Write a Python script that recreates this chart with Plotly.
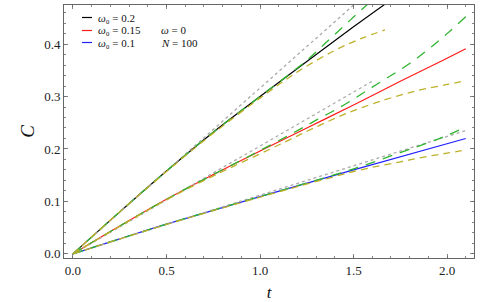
import plotly.graph_objects as go

# ---------------- data ----------------
legend_labels = ["0.2", "0.15", "0.1"]
extra_labels = ["<i>ω</i> = 0", "<i>N</i> = 100"]

# omega0 = 0.2
t_black = [0, 0.25, 0.5, 0.75, 1.0, 1.25, 1.5, 1.75]
c_black = [0, 0.080, 0.158, 0.232, 0.300, 0.367, 0.433, 0.497]
t_black_gray = [0, 0.5, 1.0, 1.5, 1.6]
c_black_gray = [0, 0.158, 0.316, 0.474, 0.506]
t_black_green = [0, 0.25, 0.5, 0.75, 1.0, 1.25, 1.35, 1.45, 1.55, 1.65]
c_black_green = [0, 0.080, 0.158, 0.232, 0.300, 0.369, 0.402, 0.435, 0.468, 0.500]
t_black_yellow = [0, 0.25, 0.5, 0.75, 1.0, 1.2, 1.4, 1.55, 1.668]
c_black_yellow = [0, 0.080, 0.157, 0.230, 0.297, 0.347, 0.388, 0.412, 0.427]

# omega0 = 0.15
t_red = [0, 0.25, 0.5, 0.75, 1.0, 1.25, 1.5, 1.75, 2.0, 2.1]
c_red = [0, 0.053, 0.104, 0.151, 0.196, 0.240, 0.284, 0.329, 0.373, 0.391]
t_red_gray = [0, 0.5, 1.0, 1.5, 1.6]
c_red_gray = [0, 0.103, 0.206, 0.309, 0.329]
t_red_green = [0, 0.5, 1.0, 1.2, 1.3, 1.4, 1.5, 1.6, 1.7, 1.8, 1.9, 2.0, 2.1]
c_red_green = [0, 0.104, 0.197, 0.235, 0.255, 0.274, 0.295, 0.318, 0.340, 0.363, 0.390, 0.420, 0.452]
t_red_yellow = [0, 0.5, 0.8, 1.05, 1.18, 1.285, 1.464, 1.66, 1.838, 2.0, 2.1]
c_red_yellow = [0, 0.103, 0.157, 0.199, 0.2215, 0.2395, 0.268, 0.293, 0.311, 0.323, 0.330]

# omega0 = 0.1
t_blue = [0, 0.25, 0.5, 1.0, 1.5, 2.1]
c_blue = [0, 0.0285, 0.0565, 0.109, 0.160, 0.220]
t_blue_gray = [0, 1.0, 2.1]
c_blue_gray = [0, 0.112, 0.235]
t_blue_green = [0, 0.5, 1.0, 1.25, 1.5, 1.75, 1.9, 2.0, 2.1]
c_blue_green = [0, 0.0565, 0.109, 0.135, 0.162, 0.193, 0.212, 0.226, 0.242]
t_blue_yellow = [0, 0.5, 1.0, 1.29, 1.4, 1.5, 1.6, 1.7, 1.8, 1.9, 2.0, 2.1]
c_blue_yellow = [0, 0.056, 0.108, 0.137, 0.1475, 0.157, 0.165, 0.172, 0.179, 0.186, 0.192, 0.198]

x_ticks = [0.0, 0.5, 1.0, 1.5, 2.0]
y_ticks = [0.0, 0.1, 0.2, 0.3, 0.4]

# ---------------- styles ----------------
W, H = 485, 302
ML, MR, MT, MB = 64, 11, 5, 44
PW, PH = W - ML - MR, H - MT - MB
FONT = "Liberation Serif"
SOLID = ["#000000", "#ff1a1a", "#2020ff"]
GRAY = "#aaaaaa"
GREEN = "#2fb52f"
YELLOW = "#bdb12a"


def px(x):
    return (x - ML) / PW


def py(y):
    return (H - MB - y) / PH


fig = go.Figure()

groups = [
    (t_black, c_black, t_black_gray, c_black_gray, t_black_green, c_black_green, t_black_yellow, c_black_yellow),
    (t_red, c_red, t_red_gray, c_red_gray, t_red_green, c_red_green, t_red_yellow, c_red_yellow),
    (t_blue, c_blue, t_blue_gray, c_blue_gray, t_blue_green, c_blue_green, t_blue_yellow, c_blue_yellow),
]

for i, (ts, cs, tg, cg, tgr, cgr, ty, cy) in enumerate(groups):
    fig.add_trace(go.Scatter(x=ts, y=cs, mode="lines", line=dict(color=SOLID[i], width=1.2, shape="spline"),
                             showlegend=False, hoverinfo="skip"))
for i, (ts, cs, tg, cg, tgr, cgr, ty, cy) in enumerate(groups):
    fig.add_trace(go.Scatter(x=tg, y=cg, mode="lines", line=dict(color=GRAY, width=1.3, dash="3px,3px"),
                             showlegend=False, hoverinfo="skip"))
    fig.add_trace(go.Scatter(x=tgr, y=cgr, mode="lines",
                             line=dict(color=GREEN, width=1.3, dash="10px,8px", shape="spline"),
                             showlegend=False, hoverinfo="skip"))
    fig.add_trace(go.Scatter(x=ty, y=cy, mode="lines",
                             line=dict(color=YELLOW, width=1.3, dash="7px,5px", shape="spline"),
                             showlegend=False, hoverinfo="skip"))

# legend drawn as layout decoration
shapes = []
annotations = []
rows_y = [17.5, 30.5, 42.5]
for i, lab in enumerate(legend_labels):
    shapes.append(dict(type="line", xref="paper", yref="paper",
                       x0=px(82), x1=px(92), y0=py(rows_y[i]), y1=py(rows_y[i]),
                       line=dict(color=SOLID[i], width=1.2)))
    annotations.append(dict(xref="paper", yref="paper", x=px(96), y=py(rows_y[i]),
                            xanchor="left", yanchor="middle", showarrow=False,
                            text="<i>ω</i>₀ = " + lab,
                            font=dict(family=FONT, size=11, color="#111")))
for j, lab in enumerate(extra_labels):
    annotations.append(dict(xref="paper", yref="paper", x=px(159), y=py(rows_y[j + 1]),
                            xanchor="left", yanchor="middle", showarrow=False,
                            text=lab, font=dict(family=FONT, size=11, color="#111")))

axis_common = dict(showline=True, linecolor="#666666", linewidth=1, mirror="allticks",
                   ticks="inside", ticklen=4, tickcolor="#666666", tickwidth=0.8,
                   showgrid=False, zeroline=False, tickformat=".1f", automargin=False,
                   tickfont=dict(family=FONT, size=13, color="#222"))

fig.update_layout(
    width=W, height=H,
    margin=dict(l=ML, r=MR, t=MT, b=MB, autoexpand=False),
    paper_bgcolor="white", plot_bgcolor="white",
    font=dict(family=FONT),
    hovermode=False,
    shapes=shapes, annotations=annotations,
    xaxis=dict(range=[-0.048, 2.144], tickvals=x_ticks,
               minor=dict(ticks="inside", ticklen=2, dtick=0.1, tick0=0, tickcolor="#666666"),
               title=dict(text="<i>t</i>", font=dict(family=FONT, size=17, color="#111"), standoff=9),
               **axis_common),
    yaxis=dict(range=[-0.008, 0.4746], tickvals=y_ticks,
               minor=dict(ticks="inside", ticklen=2, dtick=0.02, tick0=0, tickcolor="#666666"),
               title=dict(text="<i>C</i>", font=dict(family=FONT, size=19, color="#111"), standoff=4),
               **axis_common),
)

fig.write_html("out.html", config={"displayModeBar": False, "staticPlot": True},
               post_script="document.body.style.margin='0';document.body.style.padding='0';")
